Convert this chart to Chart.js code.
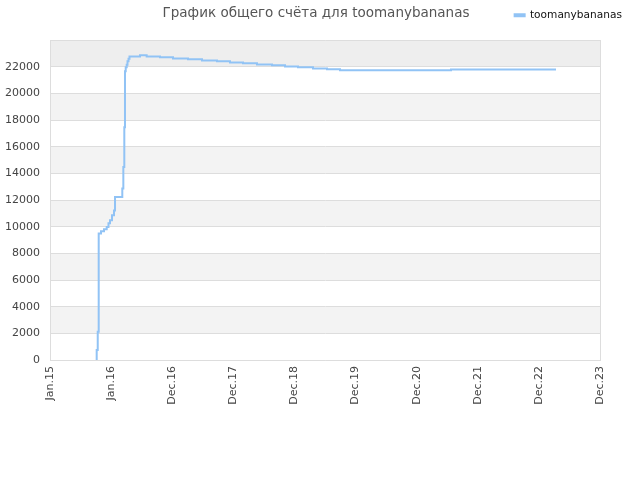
<!DOCTYPE html>
<html>
<head>
<meta charset="utf-8">
<title>toomanybananas</title>
<script src="https://cdn.jsdelivr.net/npm/chart.js@4"></script>
<style>
  html, body { margin: 0; padding: 0; background: #fff; }
  #wrap { width: 640px; height: 480px; }
</style>
</head>
<body>
<div id="wrap"><canvas id="chart" width="640" height="480"></canvas></div>
<script>
// axis labels, equally spaced along x (position 0..9)
const tickLabels = ["Jan.15", "Jan.16", "Dec.16", "Dec.17", "Dec.18", "Dec.19", "Dec.20", "Dec.21", "Dec.22", "Dec.23"];

// where the total changes (x position in tick units) and the new total
const stepPos = [0.764, 0.764, 0.781, 0.797, 0.835, 0.884, 0.928, 0.957, 0.982, 1.015, 1.047, 1.064,
  1.183, 1.200, 1.216, 1.227, 1.239, 1.255, 1.268, 1.285, 1.301, 1.473, 1.582, 1.800, 2.013, 2.258,
  2.487, 2.733, 2.945, 3.158, 3.387, 3.633, 3.846, 4.058, 4.304, 4.533, 4.746, 6.562, 8.280];
const stepValues = [0, 750, 2120, 9480, 9650, 9800, 9975, 10250, 10480, 10850, 11220, 12220,
  12870, 14470, 17460, 21650, 21950, 22150, 22400, 22600, 22770, 22850, 22770, 22700, 22620, 22550,
  22470, 22400, 22320, 22250, 22170, 22100, 22020, 21950, 21870, 21800, 21730, 21790, 21790];

const seriesName = "toomanybananas";
const lineColor = "#91c3f5";

const points = stepPos.map((x, i) => ({ x: x, y: stepValues[i] }));

// alternating grey bands behind the plot
const bands = {
  id: "bands",
  beforeDraw(chart) {
    const { ctx, chartArea, scales } = chart;
    const y = scales.y;
    ctx.save();
    for (let v = 0; v < 24000; v += 2000) {
      const idx = v / 2000;
      if (idx % 2 === 0) continue;
      ctx.fillStyle = v === 22000 ? "#eeeeee" : "#f3f3f3";
      const top = y.getPixelForValue(v + 2000);
      const bottom = y.getPixelForValue(v);
      ctx.fillRect(chartArea.left, top, chartArea.right - chartArea.left, bottom - top);
    }
    ctx.restore();
  }
};

Chart.defaults.font.family = "'DejaVu Sans', sans-serif";
Chart.defaults.font.size = 11;
Chart.defaults.color = "#444";

new Chart(document.getElementById("chart"), {
  type: "line",
  data: {
    datasets: [{
      label: seriesName,
      data: points,
      borderColor: lineColor,
      backgroundColor: lineColor,
      borderWidth: 2,
      pointRadius: 0,
      stepped: true,
      fill: false
    }]
  },
  options: {
    responsive: false,
    animation: false,
    devicePixelRatio: 1,
    layout: { padding: { top: 0, right: 8, left: 0, bottom: 0 } },
    plugins: {
      // title sits under the legend box but is pulled up into the same row
      title: {
        display: true,
        weight: 500,
        text: "График общего счёта для toomanybananas",
        color: "#555",
        font: { size: 13.5, weight: "normal" },
        padding: { top: -25.7, bottom: 18.9 }
      },
      legend: {
        position: "top",
        align: "end",
        labels: { boxWidth: 10, boxHeight: 2, color: "#111", font: { size: 10.6 } }
      },
      tooltip: { enabled: false }
    },
    scales: {
      x: {
        type: "linear",
        min: 0,
        max: 9,
        ticks: {
          stepSize: 1,
          autoSkip: false,
          maxRotation: 90,
          minRotation: 90,
          padding: 6,
          callback: (v) => tickLabels[v]
        },
        grid: {
          drawTicks: false,
          color: (c) => (c.index === 9 ? "#dddddd" : "rgba(0,0,0,0)")
        },
        border: { color: "#dddddd" },
        afterFit: (scale) => { scale.height = 120; scale.paddingRight = 40; }
      },
      y: {
        min: 0,
        max: 24000,
        ticks: {
          stepSize: 2000,
          padding: 10,
          callback: (v) => (v === 24000 ? "" : v)
        },
        grid: { drawTicks: false, color: "#dddddd" },
        border: { color: "#dddddd" },
        afterFit: (scale) => { scale.width = 50; }
      }
    }
  },
  plugins: [bands]
});
</script>
</body>
</html>
